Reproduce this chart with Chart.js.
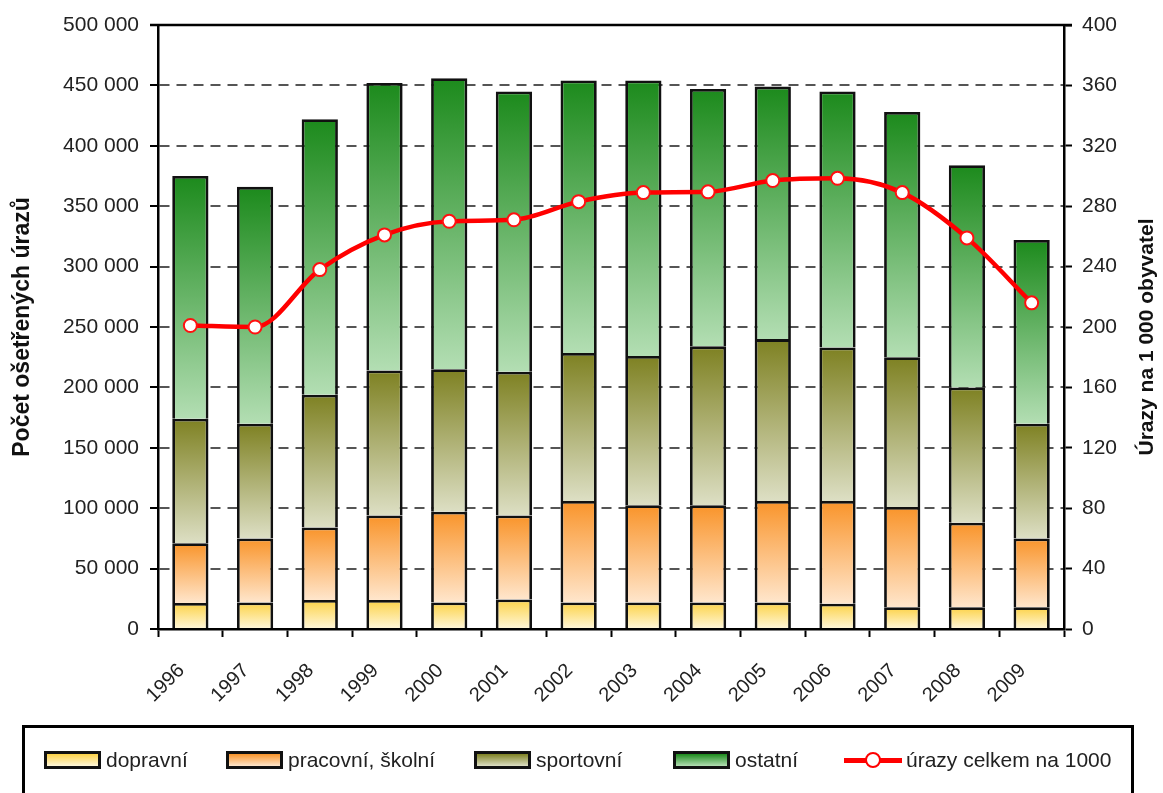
<!DOCTYPE html>
<html>
<head>
<meta charset="utf-8">
<script src="https://cdn.jsdelivr.net/npm/chart.js@4"></script>
<style>
  html, body { margin: 0; padding: 0; background: #fff; }
  #wrap { position: relative; width: 1163px; height: 793px; overflow: hidden; font-family: "Liberation Sans", Arial, sans-serif; }
  #c { position: absolute; left: 0; top: 0; }
  #legend { position: absolute; left: 22px; top: 725px; width: 1112px; height: 90px; border: 3px solid #000; box-sizing: border-box; }
  .item { position: absolute; top: 22px; height: 20px; display: flex; align-items: center; font-size: 21px; color: #222; white-space: nowrap; }
  .sw { width: 51px; height: 12px; border: 3px solid #111; margin-right: 5px; }
  .ln { position: relative; width: 58px; height: 20px; margin-right: 4px; }
  .ln:before { content: ""; position: absolute; left: 0; right: 0; top: 8px; height: 5px; background: #f00; }
  .ln:after { content: ""; position: absolute; left: 21px; top: 2px; width: 12px; height: 12px; border-radius: 50%; background: #fff; border: 2.5px solid #f00; }
</style>
</head>
<body>
<div id="wrap">
  <canvas id="c" width="1163" height="793"></canvas>
  <div id="legend"></div>
</div>
<script>
const years = ['1996','1997','1998','1999','2000','2001','2002','2003','2004','2005','2006','2007','2008','2009'];
const dopravni  = [21500, 22000, 24000, 24000, 22000, 24500, 22000, 22000, 22000, 22000, 21000, 18000, 18000, 18000];
const pracovni  = [49500, 53000, 60000, 70000, 75000, 69500, 84000, 80500, 80500, 84000, 85000, 83000, 70000, 57000];
const sportovni = [103000, 95000, 110000, 120000, 118000, 119000, 122500, 123500, 131500, 134000, 127000, 124000, 112000, 95000];
const ostatni   = [201000, 196000, 228000, 238000, 241000, 232000, 225500, 228000, 213000, 209000, 212000, 203000, 184000, 152000];
const urazyNa1000 = [201, 200, 238, 261, 270, 271, 283, 289, 289.5, 297, 298.5, 289, 259, 216];

const seriesNames = ['dopravní', 'pracovní, školní', 'sportovní', 'ostatní', 'úrazy celkem na 1000'];
const leftTitle = 'Počet ošetřených úrazů';
const rightTitle = 'Úrazy na 1 000 obyvatel';

const palette = [
  ['#FCD247', '#FFF7DA'],
  ['#F9942A', '#FFE6CC'],
  ['#7E8122', '#DDDFC4'],
  ['#1C8A1C', '#B3DEB3']
];
const barSeries = [dopravni, pracovni, sportovni, ostatni];

function gradientFor(di) {
  return function(ctx) {
    const chart = ctx.chart;
    const [topC, botC] = palette[di];
    if (ctx.type !== 'data' || !chart.scales || !chart.scales.y) return botC;
    const i = ctx.dataIndex;
    let start = 0;
    for (let k = 0; k < di; k++) start += barSeries[k][i];
    const end = start + barSeries[di][i];
    const y = chart.scales.y;
    const yTop = y.getPixelForValue(end);
    const yBot = y.getPixelForValue(start);
    if (!isFinite(yTop) || !isFinite(yBot) || yTop === yBot) return botC;
    const g = chart.ctx.createLinearGradient(0, yTop, 0, yBot);
    g.addColorStop(0, topC);
    g.addColorStop(1, botC);
    return g;
  };
}

const fmt = v => String(v).replace(/\B(?=(\d{3})+(?!\d))/g, ' ');
const FONT = "'Liberation Sans', Arial, sans-serif";

const frame = {
  id: 'frame',
  beforeDatasetsDraw(chart) {
    const {ctx, chartArea: a} = chart;
    ctx.save();
    ctx.strokeStyle = '#000';
    ctx.lineWidth = 2.5;
    ctx.beginPath();
    ctx.moveTo(a.left - 8, a.top);
    ctx.lineTo(a.right + 8, a.top);
    ctx.stroke();
    ctx.restore();
  },
  afterDraw(chart) {
    const {ctx, chartArea: a} = chart;
    ctx.save();
    ctx.fillStyle = '#111';
    ctx.font = "bold 21px " + FONT;
    ctx.textAlign = 'center';
    ctx.textBaseline = 'middle';
    ctx.translate(1147, (a.top + a.bottom) / 2 + 10);
    ctx.rotate(-Math.PI / 2);
    ctx.fillText(rightTitle, 0, 0);
    ctx.restore();
  }
};

const datasets = barSeries.map((arr, di) => ({
  type: 'bar',
  label: seriesNames[di],
  data: arr,
  backgroundColor: gradientFor(di),
  borderColor: '#111',
  borderWidth: 2.8,
  borderSkipped: 'start',
  barPercentage: 0.56,
  categoryPercentage: 1.0,
  yAxisID: 'y',
  stack: 's',
  order: 2
}));
datasets.push({
  type: 'line',
  label: seriesNames[4],
  data: urazyNa1000,
  yAxisID: 'y1',
  borderColor: '#FF0000',
  borderWidth: 4.5,
  pointRadius: 6.5,
  pointBackgroundColor: '#FFFFFF',
  pointBorderColor: '#FF1010',
  pointBorderWidth: 2,
  cubicInterpolationMode: 'monotone',
  fill: false,
  order: 0
});

const chart = new Chart(document.getElementById('c'), {
  data: { labels: years, datasets },
  options: {
    responsive: false,
    animation: false,
    layout: { padding: { left: 0, right: 0, top: 25, bottom: 74 } },
    plugins: { legend: { display: false }, tooltip: { enabled: false } },
    scales: {
      x: {
        stacked: true,
        offset: true,
        grid: { display: true, drawOnChartArea: false, offset: true, tickLength: 8, tickColor: '#000', tickWidth: 2 },
        border: { color: '#000', width: 2.5 },
        ticks: { maxRotation: 45, minRotation: 45, color: '#222', padding: 22, labelOffset: -9, font: { family: FONT, size: 20 } },
        afterFit(s) { s.height = 90; }
      },
      y: {
        stacked: true,
        position: 'left',
        min: 0, max: 500000,
        ticks: { stepSize: 50000, color: '#222', padding: 11, font: { family: FONT, size: 21 }, callback: v => fmt(v) },
        grid: { color: '#555', lineWidth: 2, tickColor: '#000', tickWidth: 2, tickLength: 8, tickBorderDash: [] },
        border: { color: '#000', width: 2.5, dash: [10, 7] },
        title: { display: true, text: leftTitle, color: '#111', font: { family: FONT, size: 23, weight: 'bold' }, padding: { top: 9, bottom: 0 } },
        afterFit(s) { s.width = 158; }
      },
      y1: {
        position: 'right',
        stacked: false,
        min: 0, max: 400,
        ticks: { stepSize: 40, color: '#222', padding: 10, font: { family: FONT, size: 21 } },
        grid: { drawOnChartArea: false, tickColor: '#000', tickWidth: 2, tickLength: 8 },
        border: { color: '#000', width: 2.5 },
        afterFit(s) { s.width = 99; }
      }
    }
  },
  plugins: [frame]
});

// legend (HTML, built from the series names and palette)
const legend = document.getElementById('legend');
const lefts = [19, 201, 449, 648, 819];
seriesNames.forEach((name, i) => {
  const it = document.createElement('div');
  it.className = 'item';
  it.style.left = lefts[i] + 'px';
  const mark = document.createElement('span');
  if (i < 4) {
    mark.className = 'sw';
    mark.style.background = 'linear-gradient(to bottom, ' + palette[i][0] + ', ' + palette[i][1] + ')';
  } else {
    mark.className = 'ln';
  }
  const t = document.createElement('span');
  t.textContent = name;
  it.appendChild(mark);
  it.appendChild(t);
  legend.appendChild(it);
});
</script>
</body>
</html>
